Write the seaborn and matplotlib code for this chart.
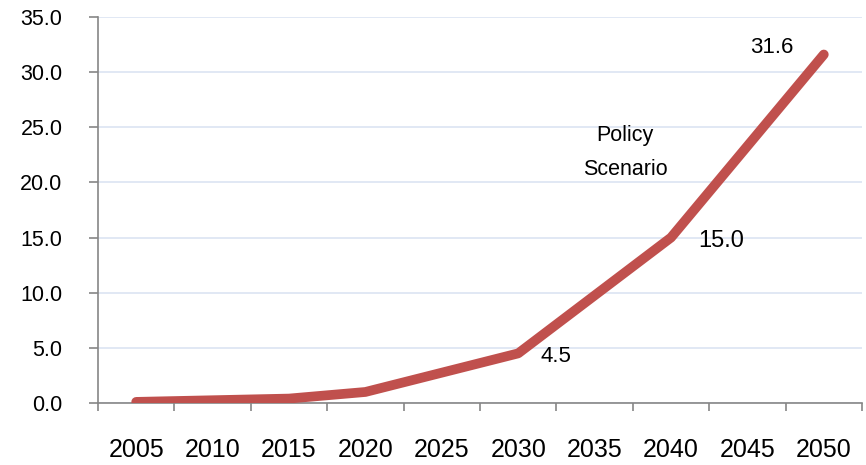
import matplotlib
matplotlib.use("Agg")
import matplotlib.pyplot as plt
import seaborn as sns
import pandas as pd
from matplotlib.ticker import FixedLocator, FormatStrFormatter

years = ["2005", "2010", "2015", "2020", "2025", "2030", "2035", "2040", "2045", "2050"]
values = [0.1, 0.25, 0.4, 1.0, 2.75, 4.5, 9.75, 15.0, 23.3, 31.6]
labelled_years = ["2030", "2040", "2050"]
series_label = "Policy\nScenario"
yticks = [0, 5, 10, 15, 20, 25, 30, 35]

sns.set_theme(style="white")
plt.rcParams['font.family'] = ['Liberation Sans', 'DejaVu Sans']

df = pd.DataFrame({"year": years, "value": values})

fig = plt.figure(figsize=(8.66, 4.65), dpi=100)
ax = fig.add_axes([98/866, 1-403/465, (862-98)/866, (403-17)/465])

sns.lineplot(data=df, x="year", y="value", ax=ax, color="#C0504D",
             linewidth=7, solid_capstyle="round", solid_joinstyle="round",
             sort=False, zorder=3)

ax.set_xlim(-0.5, len(years) - 0.5)
ax.set_ylim(0, 35)
ax.set_yticks(yticks)
ax.yaxis.set_major_formatter(FormatStrFormatter("%.1f"))
ax.set_xlabel("")
ax.set_ylabel("")

ax.set_xticks(range(len(years)))
ax.set_xticklabels(years)
ax.xaxis.set_minor_locator(FixedLocator([i - 0.5 for i in range(len(years) + 1)]))
ax.tick_params(axis="x", which="major", length=0, pad=25, labelsize=18, colors="black")
ax.tick_params(axis="x", which="minor", length=5.5, width=1.2, color="#868686", bottom=True)
ax.tick_params(axis="y", which="major", length=6.5, width=1.2, color="#868686",
               labelsize=15.5, labelcolor="black", pad=19, left=True)

ax.yaxis.grid(True, color="#DCE4F2", linewidth=1.2, zorder=0)
ax.xaxis.grid(False)
for s in ["top", "right"]:
    ax.spines[s].set_visible(False)
for s in ["left", "bottom"]:
    ax.spines[s].set_color("#868686")
    ax.spines[s].set_linewidth(1.2)

offsets = {"2030": (38, -3, 16),
           "2040": (50, -3, 17),
           "2050": (-52, 7, 16)}
for y in labelled_years:
    i = years.index(y)
    dx, dy, fs = offsets[y]
    ax.annotate(f"{values[i]:.1f}", xy=(i, values[i]), xytext=(dx, dy),
                textcoords="offset pixels", ha="center", va="center",
                fontsize=fs, color="black")

ax.text(6.4, 22.7, series_label, ha="center", va="center", fontsize=15.5,
        linespacing=1.85, color="black")

fig.savefig("out.png", dpi=100)
